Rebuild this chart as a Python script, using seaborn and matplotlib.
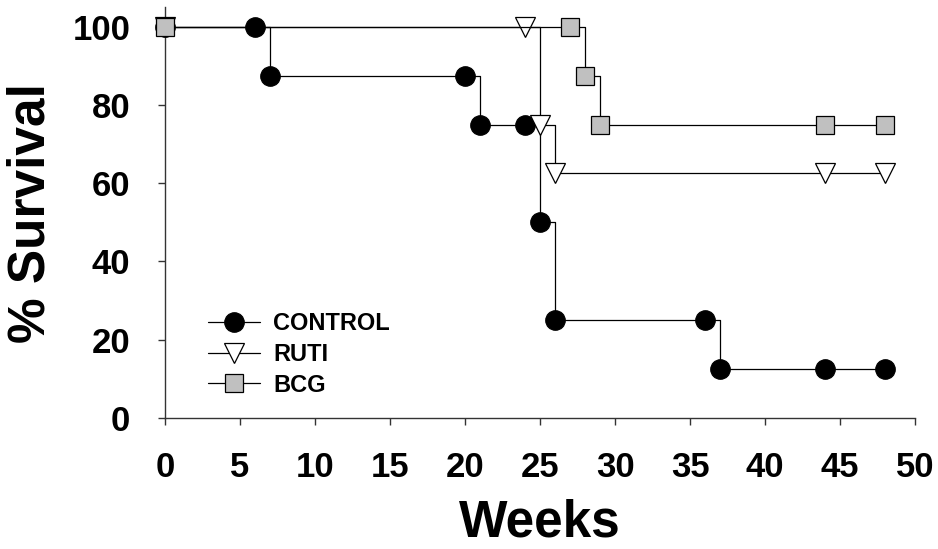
import matplotlib
matplotlib.use("Agg")
import matplotlib.pyplot as plt
import seaborn as sns
import pandas as pd

# Data
control_weeks = [0, 6, 7, 20, 21, 24, 25, 26, 36, 37, 44, 48]
control_surv = [100, 100, 87.5, 87.5, 75, 75, 50, 25, 25, 12.5, 12.5, 12.5]
ruti_weeks = [0, 24, 25, 26, 44, 48]
ruti_surv = [100, 100, 75, 62.5, 62.5, 62.5]
bcg_weeks = [0, 27, 28, 29, 44, 48]
bcg_surv = [100, 100, 87.5, 75, 75, 75]
x_ticks = [0, 5, 10, 15, 20, 25, 30, 35, 40, 45, 50]
y_ticks = [0, 20, 40, 60, 80, 100]

sns.set_style("ticks")
plt.rcParams['font.family'] = ['Liberation Sans', 'DejaVu Sans']
plt.rcParams['text.color'] = 'black'
plt.rcParams['axes.labelcolor'] = 'black'

fig = plt.figure(figsize=(9.38, 5.49), dpi=100)
ax = fig.add_axes([0.176, 0.2386, 0.7995, 0.7484])

groups = [
    ("CONTROL", control_weeks, control_surv, "o", "black", 14),
    ("RUTI", ruti_weeks, ruti_surv, "v", "white", 15),
    ("BCG", bcg_weeks, bcg_surv, "s", "#c0c0c0", 12.5),
]
for i, (name, xs, ys, mk, fc, ms) in enumerate(groups):
    df = pd.DataFrame({"Weeks": xs, "Survival": ys})
    sns.lineplot(data=df, x="Weeks", y="Survival", ax=ax, estimator=None,
                 sort=False, drawstyle="steps-post", color="black",
                 linewidth=0.9, marker=mk, markersize=ms,
                 markerfacecolor=fc, markeredgecolor="black",
                 markeredgewidth=0.9, label=name, clip_on=False,
                 zorder=3 + i)

ax.set_xlim(0, 50)
ax.set_ylim(0, 105)
ax.set_xticks(x_ticks)
ax.set_yticks(y_ticks)
ax.set_xticklabels([str(t) for t in x_ticks], fontsize=25, fontweight="bold")
ax.set_yticklabels([str(t) for t in y_ticks], fontsize=25, fontweight="bold")
ax.tick_params(axis="x", length=5, width=1, color="#333333", labelcolor="black", pad=19)
ax.tick_params(axis="y", length=5, width=1, color="#333333", labelcolor="black", pad=20)
for s in ["top", "right"]:
    ax.spines[s].set_visible(False)
for s in ["left", "bottom"]:
    ax.spines[s].set_color("#333333")
    ax.spines[s].set_linewidth(1)

ax.set_xlabel("Weeks", fontsize=37, fontweight="bold", labelpad=10)
ax.set_ylabel("% Survival", fontsize=37, fontweight="bold", labelpad=12)

leg = ax.legend(loc="upper left", bbox_to_anchor=(0.045, 0.28), frameon=False,
                prop={"family": "Liberation Sans", "weight": "bold", "size": 17},
                handlelength=2.2, handletextpad=0.55, labelspacing=0.32,
                borderaxespad=0)

fig.savefig("out.png", dpi=100)
